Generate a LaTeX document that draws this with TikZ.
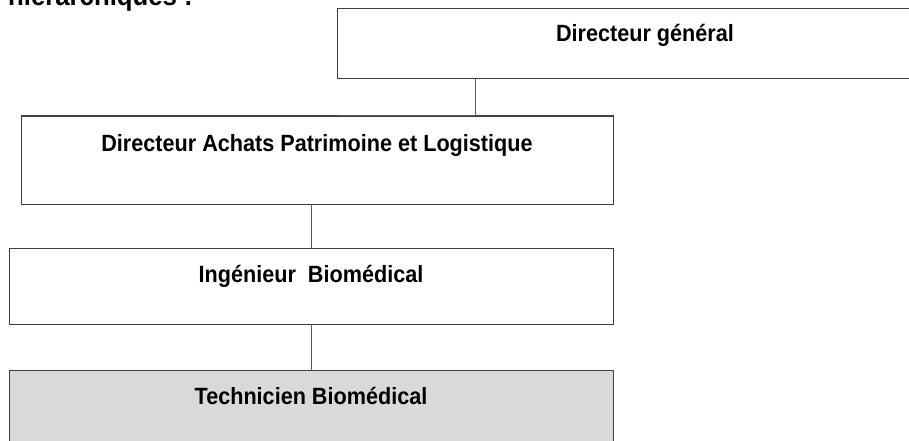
\documentclass[tikz,border=0pt]{standalone}
\usepackage{fontspec}
\setmainfont{Liberation Sans}[FakeStretch=0.92]

\begin{document}
\begin{tikzpicture}[x=1pt, y=-1pt,
            box/.style = {shape=rectangle, draw=black!75, line width=1pt,
                          anchor=north west, inner sep=0pt, outer sep=0pt,
                          align=center, fill=white,
                          font=\fontsize{23.5}{27}\selectfont\bfseries},
            link/.style = {draw=black!65, line width=0.9pt}]
    \useasboundingbox (0,0) rectangle (909,441);
    % titre coupe en haut
    \node[anchor=base east, inner sep=0pt,
          font=\fontsize{28}{31}\selectfont\bfseries] (titre) at (193,5.5) {hiérarchiques :};
    % les postes
    \node[box, minimum width=616pt, text height=33pt, text depth=37pt] (dg) at (337,9) {Directeur général};
    \node[box, minimum width=592pt, text height=35pt, text depth=53pt] (dapl) at (21,116) {Directeur Achats Patrimoine et Logistique};
    \node[box, minimum width=604pt, text height=34pt, text depth=42pt] (ib) at (9,248) {Ingénieur\ \ Biomédical};
    \node[box, minimum width=604pt, text height=34pt, text depth=46pt, fill=black!15] (tb) at (9,370) {Technicien Biomédical};
    % liens
    \coordinate (coude) at (475,115);
    \draw[link] (coude |- dg.south) -- (coude) -- (coude -| dg.south west);
    \draw[link] (ib.north) -- (ib.north |- dapl.south);
    \draw[link] (ib.south) -- (tb.north);
\end{tikzpicture}
\end{document}
